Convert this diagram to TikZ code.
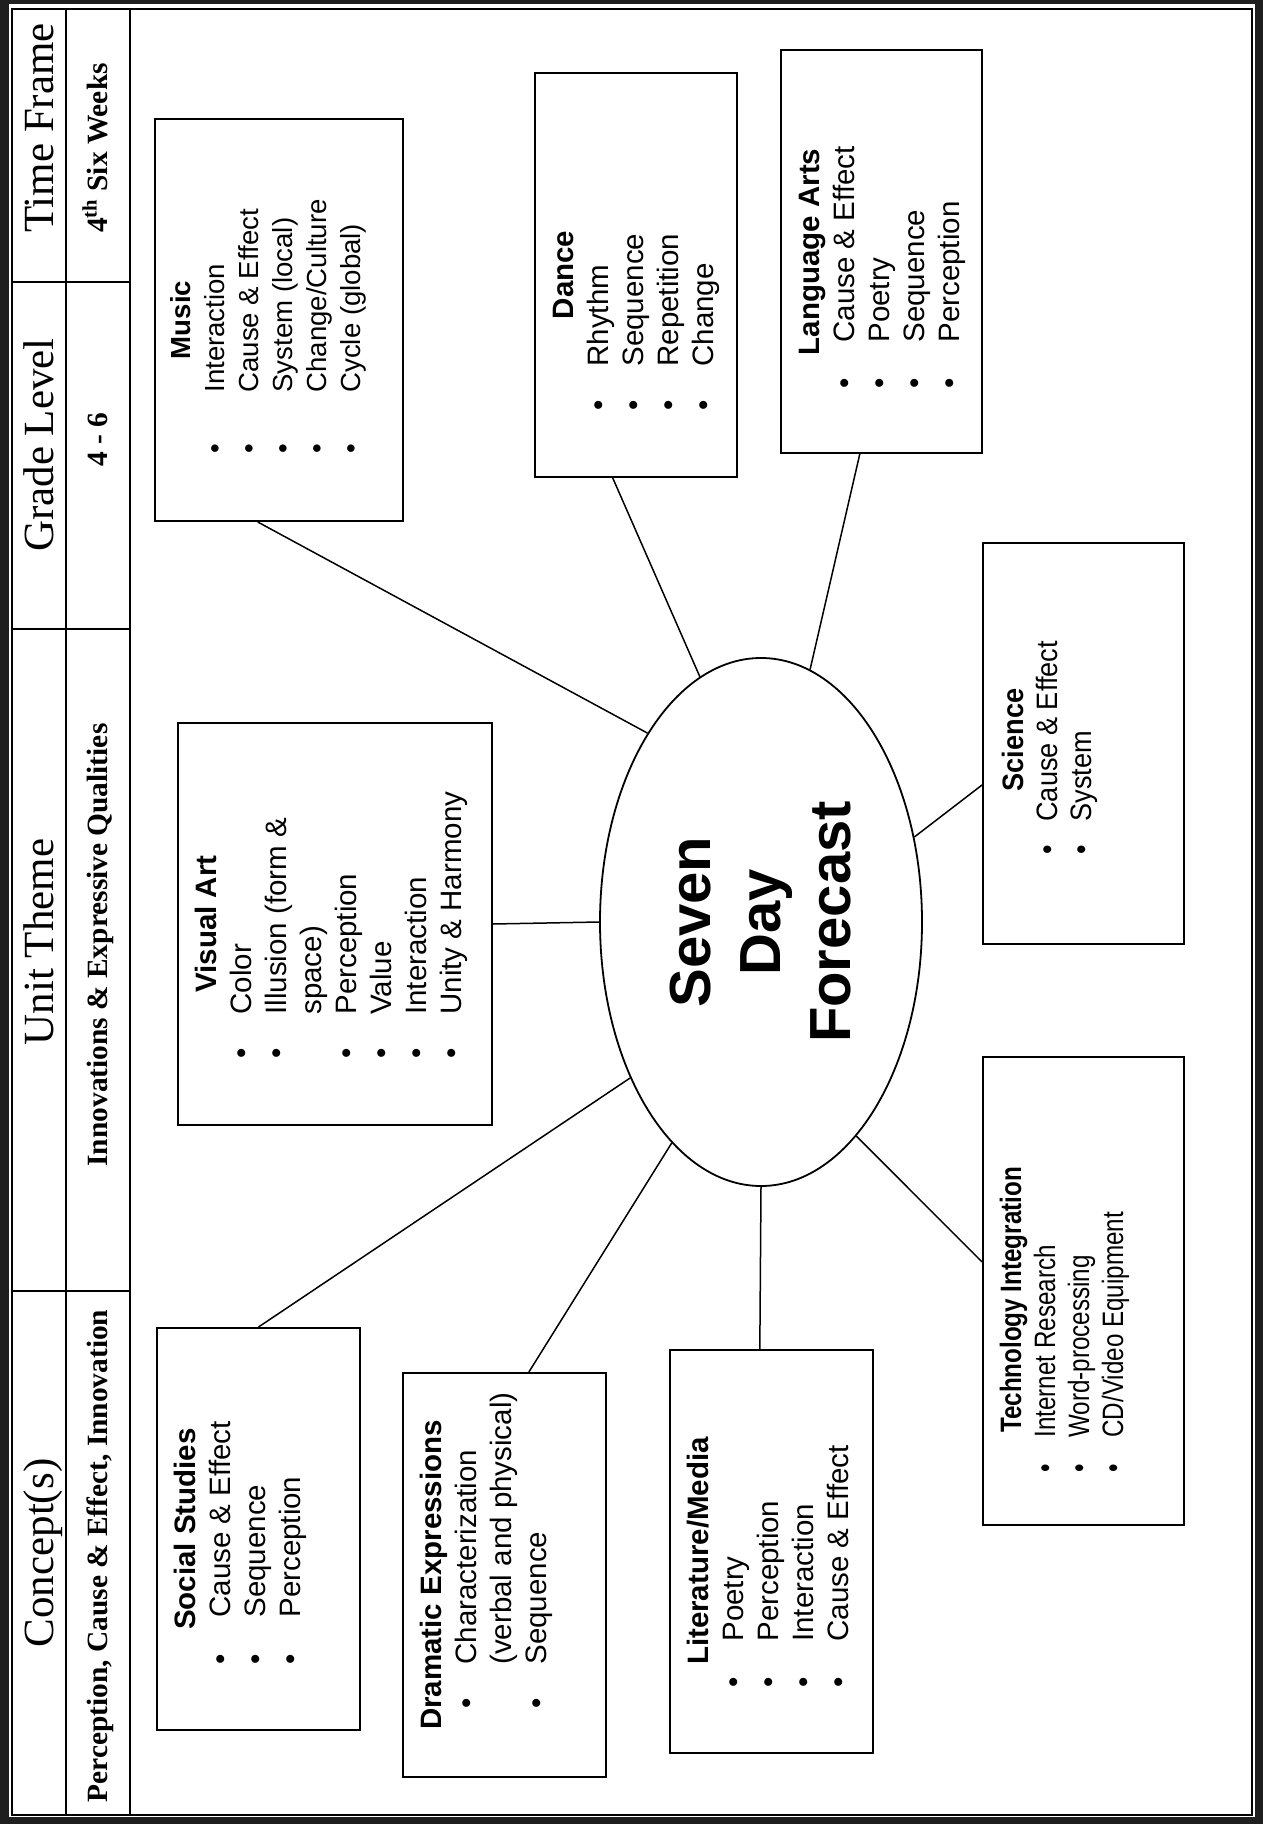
\documentclass[tikz,border=0pt]{standalone}
\usepackage{fontspec}
\setmainfont{Liberation Serif}
\newfontfamily\arialf{Liberation Sans}
\newfontfamily\narrowf{Liberation Sans}[FakeStretch=0.82]
\newfontfamily\semif{Liberation Sans}[FakeStretch=0.92]
\usetikzlibrary{shapes.geometric,fit,calc}

\def\bxfont{\arialf\fontsize{14.75}{17.5}\selectfont}
\tikzset{
  rule/.style={line width=0.8pt},
  subj/.style={draw, line width=1pt, inner sep=0pt},
  hd/.style={rotate=90, inner sep=0pt, anchor=base, font=\bxfont\bfseries},
  it/.style={rotate=90, inner sep=0pt, anchor=base west, font=\bxfont},
  bl/.style={rotate=90, inner sep=0pt, anchor=base, font=\bxfont},
  head/.style={rotate=90, inner sep=0pt, anchor=base, font=\fontsize{21.5}{25}\selectfont},
  sub/.style={rotate=90, inner sep=0pt, anchor=base, font=\bfseries\fontsize{14.7}{17}\selectfont},
  link/.style={line width=0.75pt},
}
\newcommand\bitem[5]{%
  \node[bl] (#1b) at (#2,#3) {\textbullet};
  \node[it] (#1) at (#2,#4) {#5};}
\newcommand\citem[4]{%
  \node[it] (#1) at (#2,#3) {#4};}

\begin{document}
\begin{tikzpicture}[x=0.5pt,y=-0.5pt]
\useasboundingbox (0,0) rectangle (1263,1824);
% page frame
\fill[black!88] (0,0) rectangle (1263,1824);
\fill[white] (9,4) rectangle (1255,1817);
\draw[rule] (12,9) rectangle (1252,1815);

% header table
\draw[rule] (66,9) -- (66,1815);
\draw[rule] (130,9) -- (130,1815);
\foreach \yy in {282,629,1291} \draw[rule] (12,\yy) -- (130,\yy);
\node[head] (hTF) at (53,128) {Time Frame};
\node[head] (hGL) at (53,445) {Grade Level};
\node[head] (hUT) at (53,942) {Unit Theme};
\node[head] (hCO) at (53,1553) {Concept(s)};
\node[sub] (sTF) at (107,148) {4\textsuperscript{th} Six Weeks};
\node[sub] (sGL) at (107,440) {4 - 6};
\node[sub] (sUT) at (107,945) {Innovations \& Expressive Qualities};
\node[sub] (sCO) at (107,1556) {Perception, Cause \& Effect, Innovation};

% centre
\node[ellipse, draw, line width=0.9pt, minimum width=161pt, minimum height=264pt, inner sep=0pt] (e) at (761,922) {};
\node[rotate=90, align=center, inner sep=0pt, font=\arialf\bfseries\fontsize{29}{35}\selectfont] (etxt) at (761,922) {Seven\\Day\\Forecast};

% subject boxes
\node[subj, fit={(155,119) (403,521)}] (music) {};
\node[subj, fit={(535,73) (737,477)}] (dance) {};
\node[subj, fit={(781,50) (982,453)}] (lang) {};
\node[subj, fit={(178,723) (492,1125)}] (visual) {};
\node[subj, fit={(983,543) (1184,944)}] (sci) {};
\node[subj, fit={(983,1057) (1184,1525)}] (tech) {};
\node[subj, fit={(670,1350) (873,1753)}] (lit) {};
\node[subj, fit={(403,1373) (606,1777)}] (drama) {};
\node[subj, fit={(157,1328) (360,1730)}] (social) {};

% connectors
\coordinate (cMu) at ($(music.south west)!0.415!(music.south east)$);
\coordinate (cDa) at ($(dance.south west)!0.386!(dance.south east)$);
\coordinate (cLa) at ($(lang.south west)!0.393!(lang.south east)$);
\coordinate (cSc) at ($(sci.north west)!0.603!(sci.south west)$);
\coordinate (cTe) at ($(tech.north west)!0.438!(tech.south west)$);
\coordinate (cLi) at ($(lit.north west)!0.443!(lit.north east)$);
\coordinate (cDr) at ($(drama.north west)!0.619!(drama.north east)$);
\coordinate (cSo) at ($(social.north west)!0.5!(social.north east)$);
\draw[link] (e.121.3) -- (cMu);
\draw[link] (e.104.8) -- (cDa);
\draw[link] (e.79.3) -- (cLa);
\draw[link] (e.west) -- (visual.east);
\draw[link] (e.29.8) -- (cSc);
\draw[link] (e.-66.1) -- (cTe);
\draw[link] (e.south) -- (cLi);
\draw[link] (e.248.7) -- (cDr);
\draw[link] (e.230.4) -- (cSo);

% Music
\begin{scope}
\def\bxfont{\arialf\fontsize{13.8}{17}\selectfont}
\node[hd] (muH) at (190,320) {Music};
\bitem{mu1}{224}{449}{393}{Interaction}
\bitem{mu2}{258}{449}{393}{Cause \& Effect}
\bitem{mu3}{292}{449}{393}{System (local)}
\bitem{mu4}{326}{449}{393}{Change/Culture}
\bitem{mu5}{360}{449}{393}{Cycle (global)}
\end{scope}

% Visual Art
\node[hd] (vaH) at (216,924) {Visual Art};
\bitem{va1}{251}{1053}{1015}{Color}
\bitem{va2}{286}{1053}{1015}{Illusion (form \&}
\citem{va2b}{321}{1015}{space)}
\bitem{va3}{356}{1053}{1015}{Perception}
\bitem{va4}{391}{1053}{1015}{Value}
\bitem{va5}{426}{1053}{1015}{Interaction}
\bitem{va6}{461}{1053}{1015}{Unity \& Harmony}

% Dance
\node[hd] (daH) at (573,275) {Dance};
\bitem{da1}{608}{405}{367}{Rhythm}
\bitem{da2}{643}{405}{367}{Sequence}
\bitem{da3}{678}{405}{367}{Repetition}
\bitem{da4}{713}{405}{367}{Change}

% Language Arts
\node[hd] (laH) at (819,252) {Language Arts};
\bitem{la1}{854}{383}{343}{Cause \& Effect}
\bitem{la2}{889}{383}{343}{Poetry}
\bitem{la3}{924}{383}{343}{Sequence}
\bitem{la4}{959}{383}{343}{Perception}

% Science
\begin{scope}
\def\bxfont{\semif\fontsize{14.75}{17}\selectfont}
\node[hd] (scH) at (1023,740) {Science};
\bitem{sc1}{1057}{850}{822}{Cause \& Effect}
\bitem{sc2}{1091}{850}{822}{System}
\end{scope}
% Technology
\begin{scope}
\def\bxfont{\narrowf\fontsize{14.75}{17}\selectfont}
\node[hd] (teH) at (1021,1300) {Technology Integration};
\bitem{te1}{1055}{1468}{1438}{Internet Research}
\bitem{te2}{1089}{1468}{1438}{Word-processing}
\bitem{te3}{1123}{1468}{1438}{CD/Video Equipment}
\end{scope}

% Social Studies
\node[hd] (soH) at (195,1529) {Social Studies};
\bitem{so1}{230}{1659}{1618}{Cause \& Effect}
\bitem{so2}{265}{1659}{1618}{Sequence}
\bitem{so3}{300}{1659}{1618}{Perception}

% Dramatic Expressions
\node[hd] (drH) at (441,1575) {Dramatic Expressions};
\bitem{dr1}{476}{1703}{1665}{Characterization}
\citem{dr1b}{511}{1665}{(verbal and physical)}
\bitem{dr2}{546}{1703}{1665}{Sequence}

% Literature/Media
\node[hd] (liH) at (708,1551) {Literature/Media};
\bitem{li1}{743}{1682}{1642}{Poetry}
\bitem{li2}{778}{1682}{1642}{Perception}
\bitem{li3}{813}{1682}{1642}{Interaction}
\bitem{li4}{848}{1682}{1642}{Cause \& Effect}
\end{tikzpicture}
\end{document}
